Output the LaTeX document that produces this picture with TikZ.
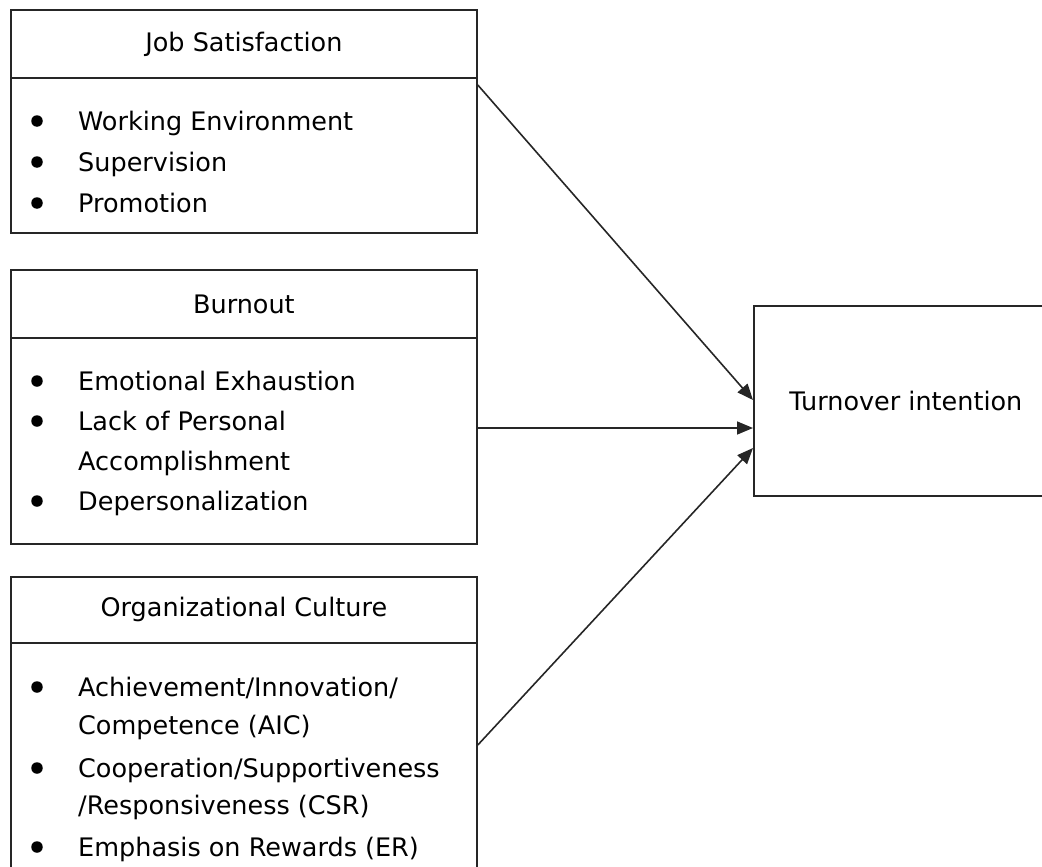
\documentclass[tikz,border=0pt]{standalone}
\usepackage{fontspec}
\setmainfont{DejaVu Sans}
\usetikzlibrary{arrows.meta}
\begin{document}
\begin{tikzpicture}[x=1pt,y=-1pt,
  box/.style={draw=black!85, line width=1.8pt, rectangle, inner sep=0pt, anchor=north west, font=\fontsize{25.5}{30}\selectfont},
  item/.style={font=\fontsize{25.5}{30}\selectfont, inner sep=0pt, anchor=base west},
  dot/.style={fill=black, circle, inner sep=0pt, minimum size=11.5pt},
  arr/.style={draw=black!85, line width=1.6pt, -{Triangle[length=16pt,width=13pt]}}]
\useasboundingbox (0,0) rectangle (1042,867);
\clip (0,0) rectangle (1042,867);
% Job Satisfaction
\node[box, minimum width=466pt, minimum height=68pt] (js) at (10,9) {Job Satisfaction};
\node[box, minimum width=466pt, minimum height=155pt] (jsb) at (10,77) {};
\node[dot] (d11) at (37,121) {};
\node[item] (t11) at (78,130) {Working Environment};
\node[dot] (d12) at (37,162) {};
\node[item] (t12) at (78,171) {Supervision};
\node[dot] (d13) at (37,203) {};
\node[item] (t13) at (78,212) {Promotion};
% Burnout
\node[box, minimum width=466pt, minimum height=68pt] (bo) at (10,269) {Burnout};
\node[box, minimum width=466pt, minimum height=206pt] (bob) at (10,337) {};
\node[dot] (d21) at (37,381) {};
\node[item] (t21) at (78,390) {Emotional Exhaustion};
\node[dot] (d22) at (37,421) {};
\node[item] (t22) at (78,430) {Lack of Personal};
\node[item] (t23) at (78,470) {Accomplishment};
\node[dot] (d24) at (37,501) {};
\node[item] (t24) at (78,510) {Depersonalization};
% Organizational Culture
\node[box, minimum width=466pt, minimum height=66pt] (oc) at (10,576) {Organizational Culture};
\node[box, minimum width=466pt, minimum height=260pt] (ocb) at (10,642) {};
\node[dot] (d31) at (37,687) {};
\node[item] (t31) at (78,696) {Achievement/Innovation/};
\node[item] (t32) at (78,734) {Competence (AIC)};
\node[dot] (d33) at (37,768) {};
\node[item] (t33) at (78,777) {Cooperation/Supportiveness};
\node[item] (t34) at (78,814) {/Responsiveness (CSR)};
\node[dot] (d35) at (37,847) {};
\node[item] (t35) at (78,856) {Emphasis on Rewards (ER)};
% Turnover intention
\node[box, minimum width=304pt, minimum height=190pt] (ti) at (753,305) {Turnover intention};
% Arrows
\draw[arr] (jsb.east |- 0,85) -- (ti.west |- 0,400);
\draw[arr] (bob.east |- 0,428) -- (ti.west |- 0,428);
\draw[arr] (ocb.east |- 0,745) -- (ti.west |- 0,448);
\end{tikzpicture}
\end{document}
